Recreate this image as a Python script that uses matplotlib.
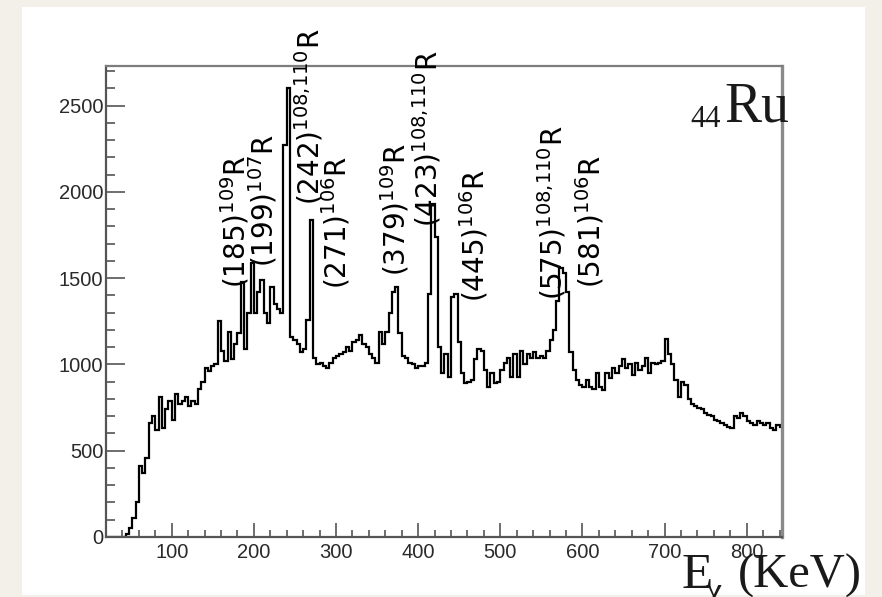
import numpy as np
import matplotlib

matplotlib.use("Agg")
import matplotlib.pyplot as plt  # noqa: E402
from matplotlib.ticker import MultipleLocator  # noqa: E402

# gamma spectrum, 4 keV bins starting at 20 keV
BIN_START = 20
BIN_WIDTH = 4
COUNTS = [
    0, 0, 0, 0, 0, 0, 15, 50, 110, 200,                                 # 20-56
    410, 370, 460, 660, 700, 620, 810, 630, 740, 790,                   # 60-96
    680, 830, 770, 790, 810, 760, 790, 770, 860, 900,                   # 100-136
    980, 960, 990, 1000, 1250, 1080, 1020, 1190, 1030, 1120,            # 140-176
    1180, 1480, 1090, 1300, 1590, 1300, 1420, 1490, 1300, 1240,         # 180-216
    1450, 1350, 1320, 1300, 2270, 2600, 1160, 1140, 1120, 1070,         # 220-256
    1090, 1260, 1840, 1040, 1000, 1010, 990, 980, 1010, 1040,           # 260-296
    1050, 1060, 1070, 1100, 1080, 1130, 1140, 1170, 1120, 1100,         # 300-336
    1060, 1040, 1010, 1190, 1120, 1190, 1300, 1420, 1450, 1180,         # 340-376
    1050, 1040, 1010, 1000, 980, 990, 990, 1010, 1410, 1930,            # 380-416
    1740, 1100, 950, 1060, 930, 1390, 1410, 1130, 950, 890,             # 420-456
    900, 910, 1030, 1090, 1080, 970, 870, 950, 890, 900,                # 460-496
    970, 1010, 1040, 930, 1060, 930, 1080, 1000, 1060, 1040,            # 500-536
    1070, 1040, 1050, 1040, 1080, 1140, 1200, 1370, 1560, 1530,         # 540-576
    1420, 1070, 970, 910, 880, 870, 910, 870, 860, 950,                 # 580-616
    870, 850, 950, 920, 980, 950, 990, 1030, 980, 1000,                 # 620-656
    940, 1010, 970, 990, 1040, 950, 1010, 1000, 1010, 1020,             # 660-696
    1150, 1060, 1000, 910, 810, 900, 880, 800, 770, 760,                # 700-736
    750, 740, 720, 710, 700, 680, 670, 660, 650, 640,                   # 740-776
    630, 700, 690, 720, 700, 670, 660, 650, 670, 660,                   # 780-816
    650, 660, 630, 620, 650, 640,                                       # 820-840
]

# peak labels: text, right edge of the rotated text (keV), start height (counts)
PEAK_LABELS = [
    r"(185)$^{109}$R",
    r"(199)$^{107}$R",
    r"(242)$^{108{,}110}$R",
    r"(271)$^{106}$R",
    r"(379)$^{109}$R",
    r"(423)$^{108{,}110}$R",
    r"(445)$^{106}$R",
    r"(575)$^{108{,}110}$R",
    r"(581)$^{106}$R",
]
LABEL_X = [197, 231, 287, 320, 392, 431, 488, 583, 629]
LABEL_Y = [1444, 1566, 1926, 1440, 1515, 1798, 1363, 1375, 1444]

XLIM = (20, 843)
YLIM = (0, 2730)

W, H = 882, 597
fig = plt.figure(figsize=(W / 100, H / 100), dpi=100)
fig.patch.set_facecolor("#f3f0ea")

# white slide panel behind the plot
panel = fig.add_axes([22 / W, 1 - 595 / H, (865 - 22) / W, (595 - 7) / H])
panel.set_facecolor("white")
panel.set_xticks([])
panel.set_yticks([])
for s in panel.spines.values():
    s.set_visible(False)

ax = fig.add_axes([106 / W, 1 - 537 / H, (782 - 106) / W, (537 - 66) / H])
ax.set_facecolor("white")

edges = BIN_START + BIN_WIDTH * np.arange(len(COUNTS) + 1)
ax.stairs(COUNTS, edges, baseline=None, color="black", lw=1.6)

ax.set_xlim(*XLIM)
ax.set_ylim(*YLIM)
ax.xaxis.set_major_locator(MultipleLocator(100))
ax.xaxis.set_minor_locator(MultipleLocator(20))
ax.yaxis.set_major_locator(MultipleLocator(500))
ax.yaxis.set_minor_locator(MultipleLocator(100))

tick_col = "#6e6e6e"
ax.tick_params(axis="both", which="both", direction="in", color=tick_col,
               width=1.4, top=False, right=False, labelcolor="#2a2a2a",
               labelsize=14.5)
ax.tick_params(axis="y", which="major", length=14, pad=2)
ax.tick_params(axis="y", which="minor", length=6.5)
ax.tick_params(axis="x", which="major", length=10, pad=4)
ax.tick_params(axis="x", which="minor", length=5)
for lab in ax.get_xticklabels() + ax.get_yticklabels():
    lab.set_family("Liberation Sans")

for side in ("left", "bottom"):
    ax.spines[side].set_color("#555555")
    ax.spines[side].set_linewidth(1.6)
ax.spines["top"].set_color("#7d7d7d")
ax.spines["top"].set_linewidth(1.6)
ax.spines["right"].set_color("#8a8a8a")
ax.spines["right"].set_linewidth(2.4)

for txt, x, y in zip(PEAK_LABELS, LABEL_X, LABEL_Y):
    ax.text(x, y, txt, rotation=90, ha="right", va="bottom", fontsize=20,
            family="DejaVu Sans", color="black", clip_on=False)

# element tag and axis title
fig.text(690 / W, 1 - 127 / H, "44", fontsize=22, family="Liberation Serif",
         color="#1a1a1a", ha="left", va="baseline")
fig.text(724 / W, 1 - 122 / H, "Ru", fontsize=40, family="Liberation Serif",
         color="#1a1a1a", ha="left", va="baseline")
fig.text(682 / W, 1 - 588 / H, "E", fontsize=37, family="Liberation Serif",
         color="#1a1a1a", ha="left", va="baseline")
fig.text(706 / W, 1 - 602 / H, "χ", fontsize=26, family="Liberation Serif",
         color="#1a1a1a", ha="left", va="baseline")
fig.text(862 / W, 1 - 588 / H, "(KeV)", fontsize=35, family="Liberation Serif",
         color="#1a1a1a", ha="right", va="baseline")

fig.savefig("out.png", dpi=100, facecolor=fig.get_facecolor())
